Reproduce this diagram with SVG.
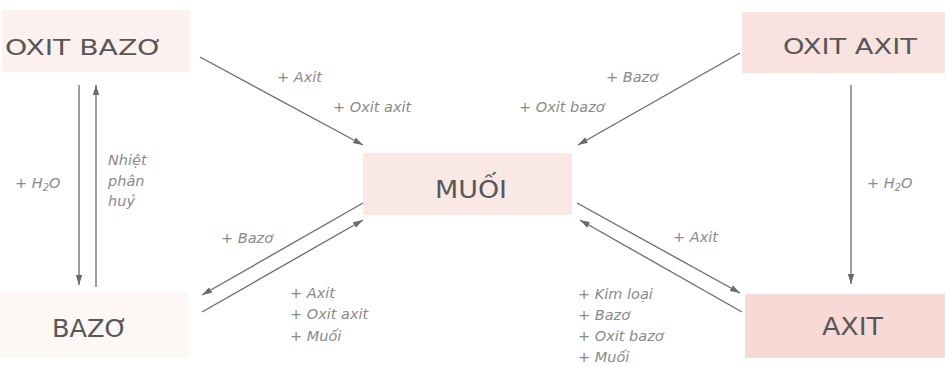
<svg xmlns="http://www.w3.org/2000/svg" width="945" height="367" viewBox="0 0 945 367">
<style>
.box{stroke:none}
.main{font-family:"DejaVu Sans","Liberation Sans",sans-serif;fill:#575757}
.lbl{font-family:"DejaVu Sans","Liberation Sans",sans-serif;font-style:italic;font-size:14.5px;fill:#8a8a8a}
.con{stroke:#6a6a6a;stroke-width:1.3;fill:none}
</style>
<defs>
<marker id="ah" markerUnits="userSpaceOnUse" markerWidth="11" markerHeight="8" refX="10" refY="4" orient="auto">
<path d="M0,0.8 L10,4 L0,7.2 Z" fill="#6a6a6a"/>
</marker>
</defs>
<rect width="945" height="367" fill="#ffffff"/>
<g id="oxit-bazo">
<rect class="box" x="2" y="10" width="188" height="62" fill="#fcf1ee"/>
<text class="main" x="5" y="55" font-size="21" textLength="158" lengthAdjust="spacingAndGlyphs">OXIT BAZƠ</text>
</g>
<g id="oxit-axit">
<rect class="box" x="742" y="12" width="203" height="61" fill="#f9e3e0"/>
<text class="main" x="783" y="54" font-size="21" textLength="134" lengthAdjust="spacingAndGlyphs">OXIT AXIT</text>
</g>
<g id="muoi">
<rect class="box" x="363" y="153" width="209" height="62" fill="#fae8e4"/>
<text class="main" x="435" y="198" font-size="25" textLength="72" lengthAdjust="spacingAndGlyphs">MUỐI</text>
</g>
<g id="bazo">
<rect class="box" x="0" y="291" width="188" height="67" fill="#fdf7f6"/>
<text class="main" x="52" y="337" font-size="25" textLength="76" lengthAdjust="spacingAndGlyphs">BAZƠ</text>
</g>
<g id="axit">
<rect class="box" x="745" y="294" width="200" height="64" fill="#f7d9d6"/>
<text class="main" x="822" y="335" font-size="25" textLength="61" lengthAdjust="spacingAndGlyphs">AXIT</text>
</g>
<g id="connectors">
<line class="con" x1="200" y1="57" x2="363" y2="145" marker-end="url(#ah)"/>
<line class="con" x1="740" y1="53" x2="578" y2="145" marker-end="url(#ah)"/>
<line class="con" x1="79" y1="85" x2="79" y2="285" marker-end="url(#ah)"/>
<line class="con" x1="96" y1="287" x2="96" y2="85" marker-end="url(#ah)"/>
<line class="con" x1="851" y1="85" x2="851" y2="284" marker-end="url(#ah)"/>
<line class="con" x1="363" y1="203" x2="202" y2="295" marker-end="url(#ah)"/>
<line class="con" x1="202" y1="312" x2="363" y2="220" marker-end="url(#ah)"/>
<line class="con" x1="577" y1="203" x2="740" y2="293" marker-end="url(#ah)"/>
<line class="con" x1="742" y1="312" x2="580" y2="220" marker-end="url(#ah)"/>
</g>
<g id="labels">
<text class="lbl" x="277" y="82">+ Axit</text>
<text class="lbl" x="333" y="112">+ Oxit axit</text>
<text class="lbl" x="606" y="82">+ Bazơ</text>
<text class="lbl" x="519" y="112">+ Oxit bazơ</text>
<text class="lbl" x="15" y="188">+ H<tspan font-size="10" dy="3">2</tspan><tspan dy="-3">O</tspan></text>
<text class="lbl" x="108" y="165">Nhiệt</text>
<text class="lbl" x="108" y="186">phân</text>
<text class="lbl" x="108" y="206">huỷ</text>
<text class="lbl" x="867" y="188">+ H<tspan font-size="10" dy="3">2</tspan><tspan dy="-3">O</tspan></text>
<text class="lbl" x="221" y="243">+ Bazơ</text>
<text class="lbl" x="290" y="298">+ Axit</text>
<text class="lbl" x="290" y="319">+ Oxit axit</text>
<text class="lbl" x="290" y="341">+ Muối</text>
<text class="lbl" x="673" y="242">+ Axit</text>
<text class="lbl" x="578" y="299">+ Kim loại</text>
<text class="lbl" x="578" y="320">+ Bazơ</text>
<text class="lbl" x="578" y="341">+ Oxit bazơ</text>
<text class="lbl" x="578" y="362">+ Muối</text>
</g>
</svg>
